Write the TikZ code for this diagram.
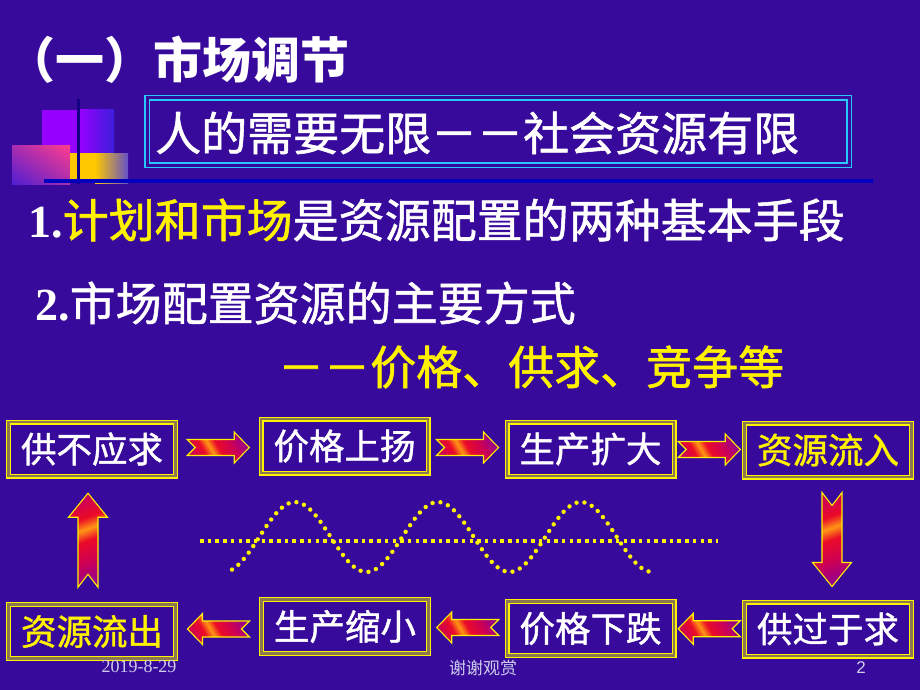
\documentclass[tikz,border=0pt]{standalone}
\usepackage{fontspec}
\setmainfont{Liberation Serif}
\newfontfamily\cjk{Noto Sans CJK SC}
\newfontfamily\cjkh{Noto Sans CJK SC}[FakeBold=1.2]
\newfontfamily\lsans{Liberation Sans}
\usetikzlibrary{calc,shadings}
\definecolor{bgc}{RGB}{55,10,155}
\definecolor{cyl}{RGB}{40,200,255}
\definecolor{gapc}{RGB}{140,120,80}
\definecolor{foot}{RGB}{205,205,235}
\definecolor{ap}{RGB}{150,0,140}
\definecolor{am}{RGB}{205,0,85}
\definecolor{ar}{RGB}{235,10,40}
\definecolor{ao}{RGB}{255,150,20}
\definecolor{vio}{RGB}{150,0,255}
\definecolor{vblue}{RGB}{60,30,220}
\definecolor{pk}{RGB}{255,60,140}
\definecolor{pkb}{RGB}{80,30,210}
\definecolor{pkm}{RGB}{170,45,175}
\definecolor{yl}{RGB}{255,200,0}
\definecolor{ylb}{RGB}{100,80,200}
\definecolor{dline}{RGB}{20,0,130}
\definecolor{hline}{RGB}{0,0,190}
\pgfdeclarehorizontalshading{arrsh}{100bp}{color(0bp)=(am); color(25bp)=(am); color(36bp)=(ar); color(43bp)=(ao); color(50bp)=(ar); color(63bp)=(am); color(75bp)=(ap); color(100bp)=(ap)}
\newcommand\harrow[3]{% from, to, xscale
  \begin{scope}[shift={($(#1)!0.5!(#2)$)}, xscale=#3]
    \path[arrowst, shading angle=30] (-31,-8) -- (16,-8) -- (16,-15.5) -- (31,0) -- (16,15.5) -- (16,8) -- (-31,8) -- (-23,0) -- cycle;
  \end{scope}}
\newcommand\varrow[4]{% from, to, yscale, xshift
  \begin{scope}[shift={($(#1)!0.5!(#2)+(#4,0)$)}, yscale=#3]
    \path[arrowst, shading angle=-70] (-10,-47) -- (0,-34) -- (10,-47) -- (10,23) -- (19.5,23) -- (0,47) -- (-19.5,23) -- (-10,23) -- cycle;
  \end{scope}}
\tikzset{
  fbox/.style={draw=yellow, line width=1.3pt, double=gapc, double distance=2.4pt,
    minimum width=167pt, minimum height=54pt, inner sep=0pt},
  arrowst/.style={shade, shading=arrsh, draw=yellow, line width=1.1pt, line join=miter},
  big/.style={anchor=west, inner sep=0pt, text=white, font=\cjkh\fontsize{46}{50}\selectfont},
  ftxt/.style={inner sep=0pt, font=\cjkh\fontsize{35.5}{40}\selectfont},
}
\begin{document}
\begin{tikzpicture}[x=1pt,y=-1pt]
\useasboundingbox (0,0) rectangle (920,690);
\fill[bgc] (0,0) rectangle (920,690);

% decoration squares
\fill[vio] (42,110) rectangle (80,153);
\shade[left color=vio, right color=vblue] (80,110) rectangle (114,153);
\shade[upper right=pk, lower left=pkb, upper left=pkm, lower right=pkm] (12,145) rectangle (70,184);
\fill[yl] (70,153) rectangle (95,183);
\shade[left color=yl, right color=ylb] (95,153) rectangle (128,183);
\draw[dline, line width=3pt] (78,99) -- (78,184);
\draw[hline, line width=4pt] (44,181) -- (873,181);

% title
\node[anchor=west, inner sep=0pt, text=white, font=\cjk\bfseries\fontsize{49}{52}\selectfont] (title) at (6,60) {（一）市场调节};

% top box
\node[draw=cyl, line width=1.5pt, double=bgc, double distance=3pt, minimum width=702pt, minimum height=67pt, inner sep=0pt] (topbox) at (498,131.5) {};
\node[big] (toptext) at (155,133) {人的需要无限－－社会资源有限};

% lines
\node[big] (line1) at (28,220) {{\rmfamily\bfseries 1.}\textcolor{yellow}{计划和市场}是资源配置的两种基本手段};
\node[big] (line2) at (35,303) {{\rmfamily\bfseries 2.}市场配置资源的主要方式};
\node[big,text=yellow] (line3) at (278,367) {－－价格、供求、竞争等};

% flow boxes
\node[fbox] (b1) at (92,449) {};
\node[fbox] (b2) at (344.5,446) {};
\node[fbox] (b3) at (590.5,449) {};
\node[fbox] (b4) at (828,450) {};
\node[fbox] (b5) at (92,631.5) {};
\node[fbox] (b6) at (345,626.5) {};
\node[fbox] (b7) at (590.5,628.5) {};
\node[fbox] (b8) at (828,629) {};
\node[ftxt,text=white] (t1) at (b1.center) {供不应求};
\node[ftxt,text=white] (t2) at (b2.center) {价格上扬};
\node[ftxt,text=white] (t3) at (b3.center) {生产扩大};
\node[ftxt,text=yellow] (t4) at (b4.center) {资源流入};
\node[ftxt,text=yellow] (t5) at (b5.center) {资源流出};
\node[ftxt,text=white] (t6) at (b6.center) {生产缩小};
\node[ftxt,text=white] (t7) at (b7.center) {价格下跌};
\node[ftxt,text=white] (t8) at (b8.center) {供过于求};

% block arrows
\harrow{b1.east}{b2.west}{1}
\harrow{b2.east}{b3.west}{1}
\harrow{b3.east}{b4.west}{1}
\harrow{b6.west}{b5.east}{-1}
\harrow{b7.west}{b6.east}{-1}
\harrow{b8.west}{b7.east}{-1}
\varrow{b4.south}{b8.north}{1}{4}
\varrow{b5.north}{b1.south}{-1}{-4}

% wave
\draw[yellow, line width=3.5pt, dash pattern=on 3.5pt off 4.2pt] (200,541) -- (718,541);
\draw[yellow, line width=4.4pt, line cap=round, dash pattern=on 0pt off 8pt]
  plot[domain=232:650, samples=120, smooth] (\x, {537-35*cos((\x-295)/143*360)});

% footer
\node[inner sep=0pt, text=foot, font=\rmfamily\fontsize{18}{20}\selectfont] (date) at (139,667) {2019-8-29};
\node[inner sep=0pt, text=foot, font=\cjk\fontsize{17}{19}\selectfont] (thanks) at (483,668) {谢谢观赏};
\node[inner sep=0pt, text=foot, font=\lsans\fontsize{17}{19}\selectfont] (pageno) at (861,668) {2};
\end{tikzpicture}
\end{document}
